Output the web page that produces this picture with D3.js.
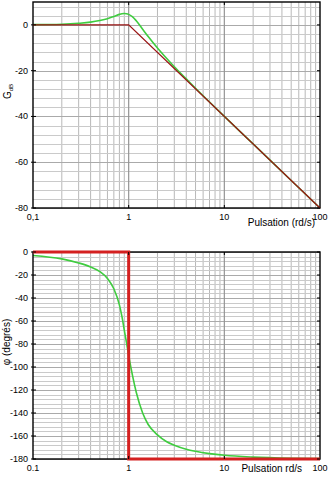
<!DOCTYPE html>
<html><head><meta charset="utf-8">
<script src="https://cdn.jsdelivr.net/npm/d3@7"></script>
<style>body{margin:0;background:#fff}svg{display:block;font-family:"Liberation Sans",Arial,sans-serif}</style>
</head><body><svg id="c" width="330" height="480"></svg>
<script>
// Data
const omega = [0.1,0.2,0.3,0.4,0.5,0.6,0.7,0.8,0.85,0.9,0.95,1,1.1,1.2,1.4,1.6,2,2.5,3,4,5,7,10,20,50,100];
const gainDb = [0.1,0.3,0.7,1.2,1.9,2.7,3.7,4.6,4.9,5.0,4.9,4.6,3.5,1.8,-1.9,-5.1,-10.1,-14.7,-18.3,-23.6,-27.7,-33.7,-40,-52,-68,-80];
const phaseDeg = [-3,-6,-9.5,-13,-17,-23,-32,-46,-56,-68,-79,-90,-108,-122,-140,-150,-159,-165,-168,-171.5,-173.3,-175.3,-176.8,-178.4,-179.4,-179.7];
const gainAsymW = [0.1,1,100];
const gainAsym = [0,0,-80];
const phaseAsymW = [0.1,1,1,100];
const phaseAsym = [0,0,-180,-180];
const xTickVals = [0.1,1,10,100];
const gainTicks = [0,-20,-40,-60,-80];
const phaseTicks = [0,-20,-40,-60,-80,-100,-120,-140,-160,-180];

const svg = d3.select("#c");
const L = 33, R = 320;

function panel(top, bottom, ydom, gridStep, ticks, opts){
  const x = d3.scaleLog().domain([0.1,100]).range([L,R]);
  const y = d3.scaleLinear().domain(ydom).range([bottom, top]);
  const g = svg.append("g");
  const minors = [];
  [0.1,1,10].forEach(d=>{for(let k=2;k<=9;k++) minors.push(d*k);});
  g.selectAll(".vm").data(minors).join("line")
    .attr("x1",d=>x(d)).attr("x2",d=>x(d)).attr("y1",top).attr("y2",bottom)
    .attr("stroke","#b8b8b8").attr("stroke-width",1);
  const hs = d3.range(ydom[0], ydom[1]+0.001, gridStep);
  g.selectAll(".hm").data(hs).join("line")
    .attr("x1",L).attr("x2",R).attr("y1",d=>Math.round(y(d))+0.5).attr("y2",d=>Math.round(y(d))+0.5)
    .attr("stroke",d=>(d%20===0)?"#aaaaaa":"#cacaca").attr("stroke-width",1);
  g.selectAll(".vd").data([1,10]).join("line")
    .attr("x1",d=>x(d)).attr("x2",d=>x(d)).attr("y1",top).attr("y2",bottom)
    .attr("stroke","#949494").attr("stroke-width",1.2);
  const line = d3.line().x(d=>x(d[0])).y(d=>y(d[1])).curve(d3.curveMonotoneX);
  const asym = d3.line().x(d=>x(d[0])).y(d=>y(d[1]));
  g.append("path").attr("d", line(omega.map((w,i)=>[w,opts.vals[i]])))
    .attr("fill","none").attr("stroke","#3fcc3f").attr("stroke-width",1.6);
  g.append("rect").attr("x",L).attr("y",top).attr("width",R-L).attr("height",bottom-top)
    .attr("fill","none").attr("stroke","#000").attr("stroke-width",1.4);
  g.append("path").attr("d", asym(opts.aw.map((w,i)=>[w,opts.av[i]])))
    .attr("fill","none").attr("stroke",opts.redColor).attr("stroke-width",opts.redWidth);
  ticks.forEach(t=>{
    g.append("line").attr("x1",L-2).attr("x2",L+3).attr("y1",y(t)).attr("y2",y(t)).attr("stroke","#000");
    g.append("line").attr("x1",R-3).attr("x2",R).attr("y1",y(t)).attr("y2",y(t)).attr("stroke","#000");
    g.append("text").attr("x",L-5).attr("y",y(t)+3).attr("text-anchor","end")
      .attr("font-size",9).text(t);
  });
  [1,10].forEach(t=>{
    g.append("line").attr("x1",x(t)).attr("x2",x(t)).attr("y1",top).attr("y2",top+3).attr("stroke","#000");
    g.append("line").attr("x1",x(t)).attr("x2",x(t)).attr("y1",bottom-3).attr("y2",bottom).attr("stroke","#000");
  });
  xTickVals.forEach((t,i)=>{
    g.append("text").attr("x",x(t)).attr("y",bottom+opts.xlabDy).attr("text-anchor","middle")
      .attr("font-size",9).text(opts.xlabels[i]);
  });
  return {x,y,g};
}

const p1 = panel(2, 208, [-80,10], 4, gainTicks,
  {aw:gainAsymW, av:gainAsym, vals:gainDb, redColor:"#9a1515", redWidth:1.3,
   xlabDy:12, xlabels:["0,1","1","10","100"]});
p1.g.append("text").attr("x",315).attr("y",226).attr("text-anchor","end").attr("font-size",10).text("Pulsation (rd/s)");
const gl = p1.g.append("text").attr("transform","translate(11,99) rotate(-90)").attr("font-size",10);
gl.append("tspan").text("G");
gl.append("tspan").attr("font-size",6).attr("dy",2).text("dB");

const p2 = panel(252, 459, [-180,0], 4, phaseTicks,
  {aw:phaseAsymW, av:phaseAsym, vals:phaseDeg, redColor:"#d42020", redWidth:3,
   xlabDy:12, xlabels:["0.1","1","10","100"]});
p2.g.append("text").attr("x",302).attr("y",472).attr("text-anchor","end").attr("font-size",10).text("Pulsation rd/s");
p2.g.append("text").attr("transform","translate(10,342) rotate(-90)").attr("text-anchor","middle")
  .attr("font-size",10).text("φ (degrés)");
</script></body></html>
